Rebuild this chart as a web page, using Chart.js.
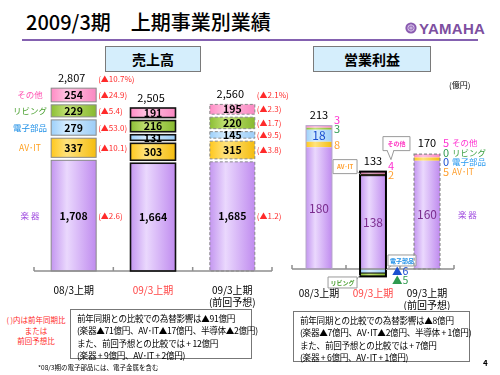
<!DOCTYPE html>
<html lang="ja">
<head>
<meta charset="UTF-8">
<title>2009/3期 上期事業別業績</title>
<script src="https://cdn.jsdelivr.net/npm/chart.js"></script>
<style>
  body { margin: 0; background: #fff; color: #000; font-family: "Noto Sans CJK JP", "Noto Sans", sans-serif; }
  #slide { position: relative; width: 500px; height: 375px; overflow: hidden; }
  .abs { position: absolute; white-space: nowrap; }
  .title { left: 26px; top: 8px; font-size: 20px; font-weight: 500; line-height: 28px; }
  .rule { left: 22px; top: 39px; width: 456px; height: 2px; background: #8461b0; }
  .logo { left: 405px; top: 20px; height: 16px; display: flex; align-items: center; gap: 2px; }
  .logo span { font-family: "Liberation Sans Narrow", "Liberation Sans", sans-serif; font-weight: 700; font-size: 15px; color: #7d4fa0; letter-spacing: 0.3px; }
  .tag { top: 46px; height: 24px; border: 1px solid #7a7a7a; background: #d5eefc; font-size: 14px; font-weight: 700; text-align: center; line-height: 24px; }
  .unit { left: 449px; top: 79px; font-size: 8px; }
  .redNote { left: 4px; top: 315px; width: 64px; text-align: center; font-size: 7.5px; line-height: 10.5px; color: #ff2a2a; }
  .box { border: 1.5px solid #777; font-size: 8.6px; letter-spacing: -0.3px; line-height: 12.3px; padding: 2px 0 0 6px; box-sizing: border-box; }
  .foot { left: 38px; top: 362px; font-size: 6.5px; }
  .page { left: 483px; top: 357px; font-size: 8px; font-weight: 700; }
  canvas { position: absolute; }
</style>
</head>
<body>
<div id="slide">
  <div class="abs title">2009/3期　上期事業別業績</div>
  <div class="abs rule"></div>
  <div class="abs logo">
    <svg width="12" height="12" viewBox="0 0 12 12"><circle cx="6" cy="6" r="5.6" fill="#8a5ab0"/><circle cx="6" cy="6" r="3.2" fill="none" stroke="#dccbee" stroke-width="0.9"/><path d="M6 2.5V9.5M2.8 4.2L9.2 7.8M2.8 7.8L9.2 4.2" stroke="#dccbee" stroke-width="0.7"/></svg>
    <span>YAMAHA</span>
  </div>
  <div class="abs tag" style="left:105px;width:94px">売上高</div>
  <div class="abs tag" style="left:313px;width:116px">営業利益</div>

  <canvas id="sales" width="290" height="240" style="left:0;top:70px"></canvas>
  <canvas id="profit" width="220" height="240" style="left:280px;top:70px"></canvas>

  <div class="abs unit">(億円)</div>
  <div class="abs redNote">( )内は前年同期比<br>または<br>前回予想比</div>
  <div class="abs box" style="left:70px;top:309px;width:182px;height:50px">前年同期との比較での為替影響は▲91億円<br>(楽器▲71億円、AV･IT▲17億円、半導体▲2億円)<br>また、前回予想との比較では + 12億円<br>(楽器 + 9億円、AV･IT + 2億円)</div>
  <div class="abs box" style="left:293px;top:311px;width:177px;height:51px">前年同期との比較での為替影響は▲8億円<br>(楽器▲7億円、AV･IT▲2億円、半導体 + 1億円)<br>また、前回予想との比較では + 7億円<br>(楽器 + 6億円、AV･IT + 1億円)</div>
  <div class="abs foot">*08/3期の電子部品には、電子金属を含む</div>
  <div class="abs page">4</div>
</div>

<script>
const FONT = '"Noto Sans CJK JP", "Noto Sans", sans-serif';

const periods = [['08/3上期'], ['09/3上期'], ['09/3上期', '(前回予想)']];
const segmentNames = ['楽 器', 'AV･IT', '電子部品', 'リビング', 'その他'];

// 売上高 (億円), bottom to top
const salesInstruments = [1708, 1664, 1685];
const salesAvIt = [337, 303, 315];
const salesElectronic = [279, 131, 145];
const salesLiving = [229, 216, 220];
const salesOthers = [254, 191, 195];
const salesTotals = [2807, 2505, 2560];
// ( )内: beside 08/3 = 前年同期比, beside forecast = 前回予想比
const salesVsLastYear = ['(▲2.6)', '(▲10.1)', '(▲53.0)', '(▲5.4)', '(▲24.9)'];
const salesVsForecast = ['(▲1.2)', '(▲3.8)', '(▲9.5)', '(▲1.7)', '(▲2.3)'];
const salesTotalVs = ['(▲10.7%)', null, '(▲2.1%)'];

// 営業利益 (億円)
const profitInstruments = [180, 138, 160];
const profitAvIt = [8, 2, 5];
const profitElectronic = [18, -6, 0];
const profitLiving = [3, -5, 0];
const profitOthers = [3, 4, 5];
const profitTotals = [213, 133, 170];

// fill shades per segment: edge, highlight, edge
const segColors = [
  ['#c497f0', '#ead8fd', '#c08cef'],
  ['#ffc81e', '#ffe37e', '#f5bd10'],
  ['#9dd0fa', '#d6edff', '#9ccdf7'],
  ['#8cbf36', '#c2e173', '#88b930'],
  ['#ff8cc5', '#ffc4e1', '#fa88c2'],
];
const nameColors = ['#a24fe0', '#ffa020', '#1e8fe6', '#4aa030', '#ff4fb0'];
const profitValueColors = ['#7b2d8e', '#ffa030', '#1a4fd0', '#2f9a50', '#ff30d0'];
const profitNameColors = ['#a24fe0', '#ffa030', '#2a9af0', '#3aa040', '#ff30d0'];

function shade(i) {
  return (c) => {
    const chart = c.chart, xs = chart.scales.x, s = segColors[i];
    if (!xs || !chart.chartArea || c.dataIndex === undefined) return s[0];
    const half = xs.width / chart.data.labels.length * c.dataset.barPercentage / 2;
    const cx = xs.getPixelForValue(c.dataIndex);
    const g = chart.ctx.createLinearGradient(cx - half, 0, cx + half, 0);
    g.addColorStop(0, s[0]);
    g.addColorStop(0.35, s[1]);
    g.addColorStop(1, s[2]);
    return g;
  };
}

function makeDatasets(series, pct) {
  return series.map((data, i) => ({
    label: segmentNames[i], data, backgroundColor: shade(i), borderWidth: 0,
    barPercentage: pct, categoryPercentage: 1, stack: 'all'
  }));
}

function baseOptions(yMin, yMax, axisH, tickPad, padding) {
  return {
    responsive: false, animation: false, events: [],
    layout: { padding },
    plugins: { legend: { display: false }, tooltip: { enabled: false } },
    scales: {
      x: {
        stacked: true,
        grid: { display: false, drawTicks: false },
        border: { display: false },
        ticks: {
          padding: tickPad, maxRotation: 0, autoSkip: false,
          color: (c) => c.index === 1 ? '#ff4545' : '#000',
          font: { family: FONT, size: 10 }
        },
        afterFit: (s) => { s.height = axisH; }
      },
      y: { stacked: true, display: false, min: yMin, max: yMax }
    }
  };
}

function drawAxis(chart) {
  const ctx = chart.ctx, xs = chart.scales.x, ys = chart.scales.y;
  const y0 = ys.getPixelForValue(0), n = chart.data.labels.length, step = xs.width / n;
  ctx.save();
  ctx.strokeStyle = '#8f8f8f';
  ctx.lineWidth = 1.5;
  ctx.beginPath();
  ctx.moveTo(xs.left, y0);
  ctx.lineTo(xs.right, y0);
  for (let k = 0; k <= n; k++) {
    const x = xs.left + k * step;
    ctx.moveTo(x, y0);
    ctx.lineTo(x, y0 - 4);
  }
  ctx.stroke();
  ctx.restore();
}

function text(ctx, str, x, y, color, size, weight, align) {
  ctx.fillStyle = color;
  ctx.font = (weight || 'normal') + ' ' + size + 'px ' + FONT;
  ctx.textAlign = align || 'center';
  ctx.textBaseline = 'middle';
  ctx.fillText(str, x, y);
}

const salesDecor = {
  id: 'salesDecor',
  afterDatasetsDraw(chart) {
    const ctx = chart.ctx, xs = chart.scales.x;
    drawAxis(chart);
    const looks = [{ c: '#8a8a8a', w: 1, d: [] }, { c: '#111', w: 1.6, d: [] }, { c: '#8a8a8a', w: 1, d: [3, 2] }];
    const tops = [], rights = [], centers = [];
    ctx.save();
    chart.data.datasets.forEach((ds, di) => {
      chart.getDatasetMeta(di).data.forEach((bar, i) => {
        const p = bar.getProps(['x', 'y', 'base', 'width'], true);
        const left = p.x - p.width / 2, top = p.y, bot = p.base;
        const lk = looks[i];
        // white gap between stacked segments
        ctx.fillStyle = '#fff';
        ctx.fillRect(left - 2, top - 1.5, p.width + 4, 3);
        ctx.strokeStyle = lk.c;
        ctx.lineWidth = lk.w;
        ctx.setLineDash(lk.d);
        ctx.strokeRect(left, top + 1.5, p.width, bot - top - (di ? 3 : 1.5));
        ctx.setLineDash([]);
        const mid = (top + bot) / 2 + (di ? 0 : 0.75);
        text(ctx, ds.data[i].toLocaleString('en-US'), p.x, mid, '#000', 10.5, 'bold');
        if (i === 0) {
          text(ctx, salesVsLastYear[di], left + p.width + 2, mid, '#ff2a2a', 8, 'normal', 'left');
          text(ctx, segmentNames[di], xs.left - 4, mid, nameColors[di], 8.5, 'normal', 'center');
        }
        if (i === 2) {
          text(ctx, salesVsForecast[di], left + p.width + 2, mid, '#ff2a2a', 8, 'normal', 'left');
        }
        tops[i] = Math.min(tops[i] === undefined ? Infinity : tops[i], top);
        rights[i] = left + p.width;
        centers[i] = p.x;
      });
    });
    salesTotals.forEach((v, i) => {
      text(ctx, v.toLocaleString('en-US'), centers[i] - 2, tops[i] - 9, '#000', 11);
      if (salesTotalVs[i]) text(ctx, salesTotalVs[i], rights[i] + 2, tops[i] - 8, '#ff2a2a', 8, 'normal', 'left');
    });
    ctx.restore();
  }
};

function callout(ctx, str, color, x, y, w, h, tail) {
  ctx.save();
  ctx.strokeStyle = '#9a9a9a';
  ctx.lineWidth = 1;
  ctx.fillStyle = '#fff';
  ctx.beginPath();
  ctx.rect(x, y, w, h);
  ctx.fill();
  ctx.stroke();
  ctx.beginPath();
  ctx.moveTo(tail[0][0], tail[0][1]);
  for (let k = 1; k < tail.length; k++) ctx.lineTo(tail[k][0], tail[k][1]);
  if (tail.length > 2) ctx.fill();
  ctx.stroke();
  text(ctx, str, x + w / 2, y + h / 2, color, 6, 'bold');
  ctx.restore();
}

const profitDecor = {
  id: 'profitDecor',
  afterDatasetsDraw(chart) {
    const ctx = chart.ctx, ys = chart.scales.y;
    drawAxis(chart);
    const zero = ys.getPixelForValue(0);
    const n = chart.data.labels.length;
    const looks = [{ c: '#b4a4c8', w: 1, d: [], sep: false }, { c: '#000', w: 2, d: [], sep: true }, { c: '#8a8a8a', w: 1.2, d: [3, 2], sep: false }];
    ctx.save();
    for (let i = 0; i < n; i++) {
      const segs = chart.data.datasets.map((ds, di) => {
        const p = chart.getDatasetMeta(di).data[i].getProps(['x', 'y', 'base', 'width'], true);
        return { di, v: ds.data[i], x: p.x, w: p.width, y: p.y, top: Math.min(p.y, p.base), bot: Math.max(p.y, p.base) };
      });
      const cx = segs[0].x, w = segs[0].w, left = cx - w / 2, right = cx + w / 2;
      const top = Math.min(...segs.map(s => s.top)), bot = Math.max(...segs.map(s => s.bot));
      const lk = looks[i];
      ctx.lineWidth = 1;
      if (lk.sep) {
        ctx.strokeStyle = lk.c;
        segs.forEach(s => { if (s.v) { ctx.beginPath(); ctx.moveTo(left, s.y); ctx.lineTo(right, s.y); ctx.stroke(); } });
      }
      ctx.strokeStyle = lk.c;
      ctx.lineWidth = lk.w;
      ctx.setLineDash(lk.d);
      ctx.strokeRect(left, top, w, bot - top);
      ctx.setLineDash([]);

      text(ctx, String(profitTotals[i]), cx, top - 11, '#000', 11);
      text(ctx, String(segs[0].v), cx, (segs[0].top + segs[0].bot) / 2, profitValueColors[0], 12);

      if (i === n - 1) {
        // value + segment name list beside the last bar
        [4, 3, 2, 1].forEach((di, k) => {
          const y = top - 11 + k * 9.5;
          text(ctx, String(segs[di].v), right + 6, y, profitValueColors[di], 11, 'normal', 'center');
          text(ctx, segmentNames[di], right + 12, y, profitNameColors[di], 8.5, 'normal', 'left');
        });
        text(ctx, segmentNames[0], right + 18, (segs[0].top + segs[0].bot) / 2, profitNameColors[0], 8.5, 'normal', 'left');
        continue;
      }
      let prev = Infinity;
      segs.slice(1).filter(s => s.v > 0).forEach(s => {
        const mid = (s.top + s.bot) / 2;
        if (s.bot - s.top >= 10) {
          text(ctx, String(s.v), cx, mid, profitValueColors[s.di], 12);
        } else {
          const y = Math.min(mid, prev - 9);
          prev = y;
          text(ctx, String(s.v), right + 2, y, profitValueColors[s.di], 11, 'normal', 'left');
        }
      });
      let prevN = -Infinity;
      segs.slice(1).filter(s => s.v < 0).forEach(s => {
        const y = Math.max((s.top + s.bot) / 2, prevN + 9);
        prevN = y;
        text(ctx, '▲' + (-s.v), right + 6, y, profitValueColors[s.di], 10.5, 'normal', 'left');
      });

      if (i === 1) {
        callout(ctx, 'その他', '#ff30c0', right - 3, top - 35, 27, 14,
          [[right + 1, top - 21.5], [right + 5, top - 12], [right + 8, top - 21.5]]);
        callout(ctx, 'AV･IT', '#ffa030', left - 27, top - 12, 24, 14, [[left - 3, top], [left + 1, top + 3]]);
        callout(ctx, '電子部品', '#1e8fe6', right + 2, zero - 14, 28, 11, [[right + 5, zero - 3], [right, zero + 1]]);
        callout(ctx, 'リビング', '#4aa030', left - 32, zero + 8, 29, 11, [[left - 3, zero + 10], [left, zero + 6]]);
      }
    }
    ctx.restore();
  }
};

const salesSeries = [salesInstruments, salesAvIt, salesElectronic, salesLiving, salesOthers];
const profitSeries = [profitInstruments, profitAvIt, profitElectronic, profitLiving, profitOthers];

new Chart(document.getElementById('sales'), {
  type: 'bar',
  data: { labels: periods, datasets: makeDatasets(salesSeries, 0.567) },
  options: baseOptions(0, 3000, 39, 13, { left: 34, right: 18, top: 4, bottom: 0 }),
  plugins: [salesDecor]
});

new Chart(document.getElementById('profit'), {
  type: 'bar',
  data: { labels: periods, datasets: makeDatasets(profitSeries, 0.48) },
  options: baseOptions(-20, 240, 27.5, 4.5, { left: 12, right: 46, top: 36.7, bottom: 0 }),
  plugins: [profitDecor]
});
</script>
</body>
</html>
